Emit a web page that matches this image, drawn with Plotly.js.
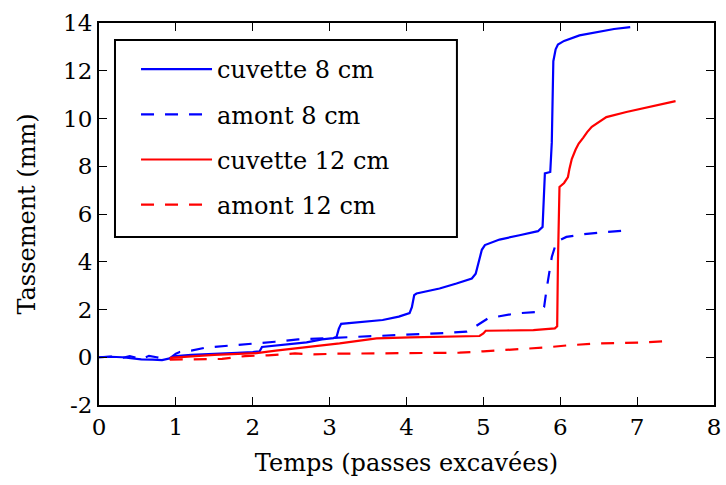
<!DOCTYPE html>
<html>
<head>
<meta charset="utf-8">
<script src="https://cdn.plot.ly/plotly-3.0.1.min.js"></script>
<style>html,body{margin:0;padding:0;background:#fff;}#chart{width:726px;height:485px;}</style>
</head>
<body>
<div id="chart"></div>
<script>
// Data
const seriesNames = ["cuvette 8 cm", "amont 8 cm", "cuvette 12 cm", "amont 12 cm"];

const cuv8_t = [0, 0.15, 0.3, 0.45, 0.55, 0.7, 0.82, 0.92, 1.0, 1.2, 1.4, 1.6, 1.8, 2.0, 2.09, 2.12, 2.3, 2.5, 2.7, 2.9, 3.05, 3.09, 3.12, 3.15, 3.3, 3.5, 3.69, 3.9, 4.04, 4.07, 4.1, 4.13, 4.3, 4.43, 4.65, 4.85, 4.9, 4.94, 4.98, 5.02, 5.21, 5.47, 5.71, 5.77, 5.8, 5.87, 5.89, 5.91, 5.94, 5.97, 6.05, 6.25, 6.51, 6.7, 6.91];
const cuv8_v = [0, 0.02, 0, -0.05, -0.09, -0.1, -0.12, -0.05, 0.05, 0.1, 0.12, 0.15, 0.18, 0.22, 0.25, 0.43, 0.48, 0.55, 0.62, 0.75, 0.8, 0.85, 1.2, 1.4, 1.45, 1.5, 1.56, 1.7, 1.85, 2.1, 2.6, 2.67, 2.78, 2.88, 3.09, 3.3, 3.5, 4.07, 4.5, 4.7, 4.93, 5.11, 5.28, 5.46, 7.7, 7.76, 9.0, 12.4, 12.9, 13.1, 13.25, 13.48, 13.65, 13.75, 13.83];

const am8_t = [0, 0.15, 0.3, 0.4, 0.55, 0.65, 0.75, 0.85, 0.92, 1.0, 1.05, 1.2, 1.38, 1.68, 1.99, 2.29, 2.59, 2.91, 3.2, 3.61, 4.04, 4.4, 4.78, 4.84, 4.89, 5.06, 5.43, 5.73, 5.79, 5.82, 5.89, 5.95, 6.08, 6.3, 6.6, 6.9];
const am8_v = [0, 0.03, -0.03, 0.05, -0.08, 0.06, 0.0, -0.08, -0.05, 0.15, 0.22, 0.28, 0.4, 0.48, 0.55, 0.65, 0.75, 0.79, 0.85, 0.89, 0.93, 1.0, 1.07, 1.15, 1.28, 1.63, 1.84, 1.9, 2.1, 2.8, 4.2, 4.83, 5.04, 5.15, 5.25, 5.32];

const cuv12_t = [0.92, 1.1, 1.3, 1.5, 1.7, 2.05, 2.3, 2.6, 2.9, 3.13, 3.4, 3.61, 4.04, 4.4, 4.7, 4.95, 5.0, 5.03, 5.3, 5.65, 5.93, 5.96, 5.97, 5.99, 6.05, 6.1, 6.12, 6.15, 6.2, 6.24, 6.3, 6.35, 6.41, 6.5, 6.6, 6.86, 7.12, 7.38, 7.5];
const cuv12_v = [-0.03, 0.02, 0.06, 0.1, 0.13, 0.17, 0.28, 0.4, 0.5, 0.58, 0.7, 0.79, 0.83, 0.86, 0.87, 0.89, 1.0, 1.11, 1.12, 1.14, 1.21, 1.3, 4.0, 7.13, 7.3, 7.55, 7.9, 8.3, 8.7, 8.95, 9.2, 9.43, 9.65, 9.85, 10.06, 10.27, 10.45, 10.62, 10.73];

const am12_t = [0.92, 1.2, 1.6, 1.9, 2.2, 2.55, 2.79, 3.1, 3.48, 4.04, 4.4, 4.69, 5.0, 5.38, 5.6, 5.82, 6.1, 6.51, 6.8, 7.1, 7.4];
const am12_v = [-0.1, -0.08, -0.07, 0.05, 0.08, 0.16, 0.12, 0.15, 0.16, 0.2, 0.2, 0.19, 0.25, 0.33, 0.36, 0.41, 0.5, 0.58, 0.6, 0.62, 0.68];

const xTickVals = [0, 1, 2, 3, 4, 5, 6, 7, 8];
const xTickText = ["0", "1", "2", "3", "4", "5", "6", "7", "8"];
const yTickVals = [-2, 0, 2, 4, 6, 8, 10, 12, 14];
const yTickText = ["-2", "0", "2", "4", "6", "8", "10", "12", "14"];

const FONT = "DejaVu Serif, Liberation Serif, serif";
const dashStyle = "13px,11px";

function trace(x, y, name, color, dash, grp) {
  return {
    x: x, y: y, name: name, type: "scatter", mode: "lines",
    line: {color: color, width: 2.2, dash: dash},
    legendgroup: grp
  };
}

const data = [
  trace(cuv8_t, cuv8_v, seriesNames[0], "#0000ff", "solid", "g1"),
  trace(am8_t, am8_v, seriesNames[1], "#0000ff", dashStyle, "g2"),
  trace(cuv12_t, cuv12_v, seriesNames[2], "#ff0000", "solid", "g3"),
  trace(am12_t, am12_v, seriesNames[3], "#ff0000", dashStyle, "g4")
];

const axisCommon = {
  showline: true, linecolor: "#000", linewidth: 2, mirror: "ticks",
  ticks: "inside", ticklen: 8, tickwidth: 1, tickcolor: "#000",
  showgrid: false, zeroline: false,
  tickfont: {family: FONT, size: 23, color: "#000"}
};

const layout = {
  width: 726, height: 485,
  margin: {l: 99, r: 12, t: 23, b: 80},
  paper_bgcolor: "#fff", plot_bgcolor: "#fff",
  font: {family: FONT, color: "#000"},
  showlegend: true,
  legend: {
    x: 0.0602, y: 0.9372, xanchor: "left", yanchor: "top",
    borderwidth: 0, bgcolor: "rgba(0,0,0,0)",
    font: {family: FONT, size: 24, color: "#000"},
    traceorder: "grouped", tracegroupgap: 11, itemwidth: 71
  },
  shapes: [{
    type: "rect", xref: "paper", yref: "paper",
    x0: 0.026, x1: 0.582, y0: 0.4398, y1: 0.9555,
    line: {color: "#000", width: 2}, fillcolor: "#fff", layer: "above"
  }],
  xaxis: Object.assign({}, axisCommon, {
    range: [0, 8], tickvals: xTickVals, ticktext: xTickText,
    title: {text: "Temps (passes excavées)", font: {family: FONT, size: 24, color: "#000"}, standoff: 16}
  }),
  yaxis: Object.assign({}, axisCommon, {
    range: [-2, 14], tickvals: yTickVals, ticktext: yTickText,
    title: {text: "Tassement (mm)", font: {family: FONT, size: 24, color: "#000"}, standoff: 21}
  })
};

Plotly.newPlot("chart", data, layout, {staticPlot: true, displayModeBar: false});
</script>
</body>
</html>
